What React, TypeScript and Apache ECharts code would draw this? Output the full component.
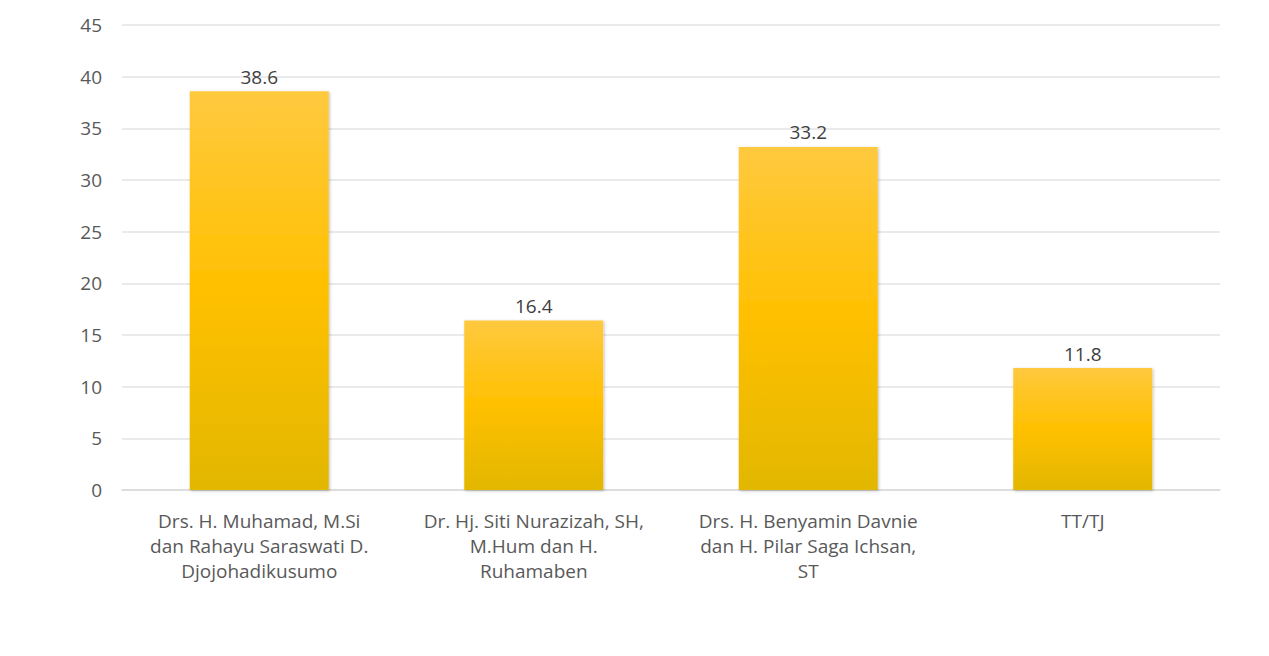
import React, { useEffect, useRef } from "react";
import * as echarts from "echarts";

const categories = [
  "Drs. H. Muhamad, M.Si\ndan Rahayu Saraswati D.\nDjojohadikusumo",
  "Dr. Hj. Siti Nurazizah, SH,\nM.Hum dan H.\nRuhamaben",
  "Drs. H. Benyamin Davnie\ndan H. Pilar Saga Ichsan,\nST",
  "TT/TJ",
];
const values = [38.6, 16.4, 33.2, 11.8];

export default function App() {
  const ref = useRef<HTMLDivElement>(null);
  useEffect(() => {
    if (!ref.current) return;
    const chart = echarts.init(ref.current, undefined, { renderer: "svg" });
    const font = "'Open Sans', Lato, sans-serif";
    chart.setOption({
      animation: false,
      grid: { left: 122, right: 49, top: 25, bottom: 166, containLabel: false },
      xAxis: {
        type: "category",
        data: categories,
        axisTick: { show: false },
        axisLine: { lineStyle: { color: "#d9d9d9", width: 1.5 } },
        axisLabel: {
          color: "#595959",
          fontSize: 19,
          fontFamily: font,
          lineHeight: 25,
          margin: 18,
          interval: 0,
        },
      },
      yAxis: {
        type: "value",
        min: 0,
        max: 45,
        interval: 5,
        axisLine: { show: false },
        axisTick: { show: false },
        splitLine: { lineStyle: { color: "#e3e3e3", width: 1.5 } },
        axisLabel: { color: "#595959", fontSize: 19, fontFamily: font, margin: 20 },
      },
      series: [
        {
          type: "bar",
          data: values,
          barWidth: 139,
          itemStyle: {
            color: new echarts.graphic.LinearGradient(0, 0, 0, 1, [
              { offset: 0, color: "#FFC93F" },
              { offset: 0.5, color: "#FFC000" },
              { offset: 1, color: "#E2B700" },
            ]),
            shadowColor: "rgba(0,0,0,0.25)",
            shadowBlur: 3,
            shadowOffsetX: 1,
            shadowOffsetY: 1,
          },
          label: {
            show: true,
            position: "top",
            color: "#404040",
            fontSize: 19,
            fontFamily: font,
            distance: 5,
          },
        },
      ],
    });
    return () => chart.dispose();
  }, []);
  return <div ref={ref} style={{ width: 1269, height: 656, margin: -8 }} />;
}
